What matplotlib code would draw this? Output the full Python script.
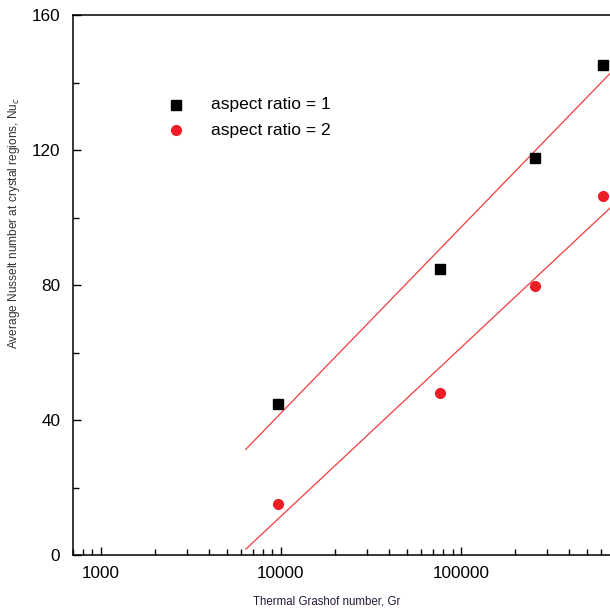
import numpy as np
import matplotlib
matplotlib.use('Agg')
import matplotlib.pyplot as plt
from matplotlib.ticker import FixedLocator, NullFormatter

plt.rcParams['font.family'] = ['Liberation Sans', 'DejaVu Sans']

# Grashof numbers and Nusselt numbers
gr = [9700, 76500, 258000, 616000]
nu_ar1 = [44.7, 84.7, 117.6, 145.2]
nu_ar2 = [15.1, 47.9, 79.7, 106.5]
fit_start = 6400
x_ticks = [1000, 10000, 100000]
y_ticks = [0, 40, 80, 120, 160]

fig = plt.figure(figsize=(6.1, 6.1), dpi=100)
# axes: left spine at x=72.7 px, bottom at 555 px, top at 15 px (right edge falls off the picture)
left, right = 72.7 / 610, 641 / 610
bottom, top = 1 - 555 / 610, 1 - 15 / 610
ax = fig.add_axes([left, bottom, right - left, top - bottom])

ax.set_xscale('log')
ax.set_xlim(700, 1e6)
ax.set_ylim(0, 160)

# linear fits in log(Gr), as in the original
x_end = 1e6
for nu in (nu_ar1, nu_ar2):
    k, b = np.polyfit(np.log10(gr), nu, 1)
    xs = np.array([fit_start, x_end])
    ax.plot(xs, k * np.log10(xs) + b, color='#f03c3c', lw=0.9, zorder=2)

ax.plot(gr, nu_ar1, 's', color='black', ms=6.5, ls='none', zorder=3)
ax.plot(gr, nu_ar2, 'o', color='#ee1c24', ms=7, ls='none', zorder=3)

# legend drawn as plain markers + text
ax.plot([176 / 610], [1 - 105 / 610], 's', color='black', ms=6.5,
        transform=fig.transFigure, clip_on=False)
ax.plot([176 / 610], [1 - 130 / 610], 'o', color='#ee1c24', ms=7,
        transform=fig.transFigure, clip_on=False)
fig.text(211 / 610, 1 - 105 / 610, 'aspect ratio = 1', fontsize=12.5, va='center')
fig.text(211 / 610, 1 - 130 / 610, 'aspect ratio = 2', fontsize=12.5, va='center')

ax.xaxis.set_major_locator(FixedLocator(x_ticks))
ax.set_xticklabels([str(t) for t in x_ticks])
minors = [m * 10 ** e for e in range(2, 6) for m in range(2, 10)]
ax.xaxis.set_minor_locator(FixedLocator(minors))
ax.xaxis.set_minor_formatter(NullFormatter())
ax.set_yticks(y_ticks)
ax.set_yticks([20, 60, 100, 140], minor=True)

ax.tick_params(which='major', direction='in', length=6, width=1, labelsize=12.3, pad=8)
ax.tick_params(which='minor', direction='in', length=4, width=1)
ax.tick_params(axis='y', which='both', left=True, right=False, pad=9)
ax.tick_params(axis='x', which='both', top=False)

for s in ax.spines.values():
    s.set_linewidth(1.1)

fig.text(327 / 610, 1 - 602 / 610, 'Thermal Grashof number, Gr', fontsize=8.3,
         ha='center', va='center', color='#2a1a3a')
fig.text(14 / 610, 1 - 223 / 610, 'Average Nusselt number at crystal regions, Nu$_c$',
         fontsize=8.6, ha='center', va='center', rotation=90, color='#333333')

fig.savefig('out.png', dpi=100)
